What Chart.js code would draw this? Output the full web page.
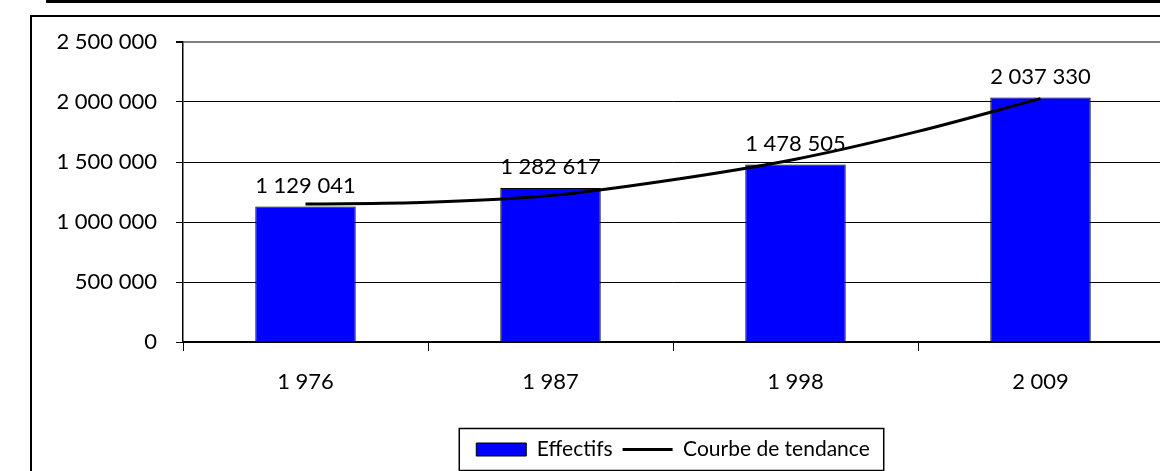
<!DOCTYPE html>
<html>
<head>
<meta charset="utf-8">
<script src="https://cdn.jsdelivr.net/npm/chart.js@4.4.0/dist/chart.umd.min.js"></script>
<style>
  html, body { margin: 0; padding: 0; overflow: hidden; background: #fff; }
  #wrap { width: 1350px; height: 490px; }
</style>
</head>
<body>
<div id="wrap"><canvas id="myChart" width="1350" height="490"></canvas></div>
<script>
const years = [1976, 1987, 1998, 2009];
const effectifs = [1129041, 1282617, 1478505, 2037330];
// trend curve (position in categories, 0 = 1976)
const trendPos = [0, 0.5, 1, 1.5, 2, 2.5, 3];
const trendVals = [1149000, 1164000, 1220000, 1352000, 1523000, 1755000, 2028000];
const yTicks = [0, 500000, 1000000, 1500000, 2000000, 2500000];

function fmt(n) {
  return String(n).replace(/\B(?=(\d{3})+(?!\d))/g, ' ');
}

Chart.defaults.font.family = 'Lato';
Chart.defaults.color = '#000';

// outer frame of the original sheet
const frame = {
  id: 'frame',
  beforeDraw(chart) {
    const c = chart.ctx;
    c.save();
    c.fillStyle = '#fff';
    c.fillRect(0, 0, chart.width, chart.height);
    c.strokeStyle = '#000';
    c.lineWidth = 2;
    c.strokeRect(31, 16, chart.width, chart.height);
    c.lineWidth = 3;
    c.beginPath();
    c.moveTo(46, 1.5);
    c.lineTo(chart.width, 1.5);
    c.stroke();
    c.restore();
  },
  afterDraw(chart) {
    // box round the legend
    const hb = chart.legend.legendHitBoxes;
    if (!hb || !hb.length) return;
    const l = Math.min(...hb.map(h => h.left)) - 17;
    const r = Math.max(...hb.map(h => h.left + h.width)) + 14;
    const cy = hb[0].top + hb[0].height / 2;
    const c = chart.ctx;
    c.save();
    c.strokeStyle = '#000';
    c.lineWidth = 1.5;
    c.strokeRect(l, cy - 21, r - l, 42);
    c.restore();
  }
};

// values above the bars
const barValues = {
  id: 'barValues',
  afterDatasetsDraw(chart) {
    const c = chart.ctx;
    const meta = chart.getDatasetMeta(0);
    c.save();
    c.font = '22px Lato';
    c.fillStyle = '#000';
    c.textAlign = 'center';
    c.textBaseline = 'alphabetic';
    meta.data.forEach((bar, i) => {
      c.fillText(fmt(effectifs[i]), bar.x, bar.y - 14);
    });
    c.restore();
  }
};

const ctx = document.getElementById('myChart');

var chart = new Chart(ctx, {
  type: 'bar',
  data: {
    labels: years,
    datasets: [{
      label: 'Effectifs',
      data: effectifs,
      backgroundColor: '#0000FF',
      borderColor: '#000',
      borderWidth: 1,
      grouped: false,
      barPercentage: 1,
      categoryPercentage: 0.41,
      order: 1
    },
    {
      type: 'line',
      label: 'Courbe de tendance',
      data: trendPos.map((p, i) => ({ x: p, y: trendVals[i] })),
      xAxisID: 'xt',
      borderColor: '#000',
      backgroundColor: '#000',
      borderWidth: 3,
      pointRadius: 0,
      cubicInterpolationMode: 'monotone',
      order: 0
    }]
  },
  options: {
    responsive: false,
    animation: false,
    devicePixelRatio: 1,
    layout: { padding: { left: 31, top: 42, right: 187, bottom: 20 } },
    plugins: {
      tooltip: { enabled: false },
      legend: {
        position: 'bottom',
        fullSize: false,
        labels: {
          usePointStyle: true,
          pointStyleWidth: 50,
          boxHeight: 13,
          padding: 10,
          font: { size: 21 },
          generateLabels(chart) {
            return chart.data.datasets.map((ds, i) => ({
              text: ds.label,
              datasetIndex: i,
              fillStyle: ds.type === 'line' ? '#000' : '#0000FF',
              strokeStyle: '#000',
              lineWidth: ds.type === 'line' ? 3 : 1,
              pointStyle: ds.type === 'line' ? 'line' : 'rect',
              fontColor: '#000'
            }));
          }
        }
      }
    },
    scales: {
      x: {
        type: 'category',
        offset: true,
        grid: { drawOnChartArea: false, offset: true, color: '#000', tickLength: 9 },
        border: { color: '#000', width: 1.5 },
        ticks: { font: { size: 22 }, padding: 18, callback(v) { return fmt(years[v]); } },
        afterFit(s) { s.height = 87; }
      },
      xt: {
        type: 'linear',
        display: false,
        offset: false,
        min: -0.5,
        max: 3.5
      },
      y: {
        min: 0,
        max: 2500000,
        afterBuildTicks(s) { s.ticks = yTicks.map(v => ({ value: v })); },
        grid: {
          color: c => c.tick && c.tick.value === 2500000 ? '#808080' : '#000',
          lineWidth: c => c.tick && c.tick.value === 2500000 ? 2 : 1,
          tickColor: '#000',
          tickLength: 7
        },
        border: { color: '#000', width: 1.5 },
        ticks: { font: { size: 22 }, padding: 19, callback(v) { return fmt(v); } },
        afterFit(s) { s.width = 152; }
      }
    }
  },
  plugins: [frame, barValues]
});
</script>
</body>
</html>
